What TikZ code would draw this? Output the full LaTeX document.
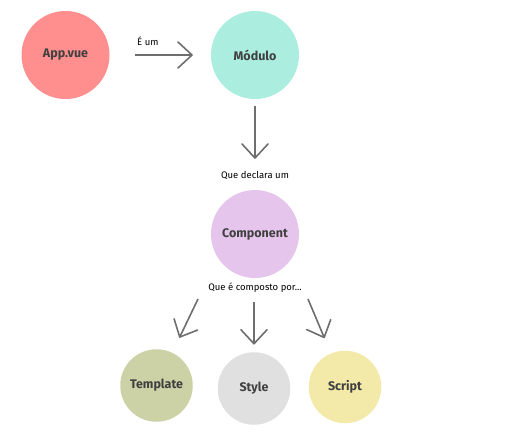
\documentclass[tikz,border=0pt]{standalone}
\usepackage{fontspec}
\setmainfont{Fira Sans}
\usetikzlibrary{arrows.meta}
\definecolor{txt}{HTML}{404040}
\definecolor{arrc}{HTML}{6E6E6E}
\definecolor{cApp}{HTML}{FF8E8F}
\definecolor{cMod}{HTML}{ABEEE0}
\definecolor{cComp}{HTML}{E6C5EC}
\definecolor{cTmpl}{HTML}{CDD2A6}
\definecolor{cStyle}{HTML}{E0E0E0}
\definecolor{cScript}{HTML}{F3E9A9}
\tikzset{
  bubble/.style={circle, draw=none, inner sep=0pt, text=txt, font=\bfseries\fontsize{12.5}{14}\selectfont},
  bigbubble/.style={bubble, minimum size=88pt},
  smallbubble/.style={bubble, minimum size=72.5pt},
  lbl/.style={text=black, font=\fontsize{9.5}{11}\selectfont, inner sep=0pt},
  arr/.style={draw=arrc, line width=1.6pt, -{Straight Barb[length=14pt,width=26pt,line width=1.6pt,round]}}
}
\begin{document}
\begin{tikzpicture}[x=1pt,y=-1pt]
\useasboundingbox (0,0) rectangle (506,432);
\fill[white] (0,0) rectangle (506,432);
\node[bigbubble, fill=cApp] (app) at (65.5,55) {App.vue};
\node[bigbubble, fill=cMod] (mod) at (255,55) {Módulo};
\node[bigbubble, fill=cComp] (comp) at (255,234) {Component};
\node[smallbubble, fill=cTmpl] (tmpl) at (156.5,385.5) {Template};
\node[smallbubble, fill=cStyle] (sty) at (254,388.5) {Style};
\node[smallbubble, fill=cScript] (scr) at (345,387) {Script};
\node[lbl, anchor=west] (l1) at (137,41) {É um};
\node[lbl] (l2) at (255,175) {Que declara um};
\node[lbl] (l3) at (255,288) {Que é composto por...};
\coordinate (s1) at (198,299);
\coordinate (s2) at (254,302);
\coordinate (s3) at (308,299);
\draw[arr, shorten <=25pt, shorten >=18pt] (app) -- (mod);
\draw[arr, shorten <=7pt, shorten >=31pt] (mod) -- (comp);
\draw[arr, shorten >=16.5pt] (s1) -- (tmpl);
\draw[arr, shorten >=7.5pt] (s2) -- (sty);
\draw[arr, shorten >=16.5pt] (s3) -- (scr);
\end{tikzpicture}
\end{document}
